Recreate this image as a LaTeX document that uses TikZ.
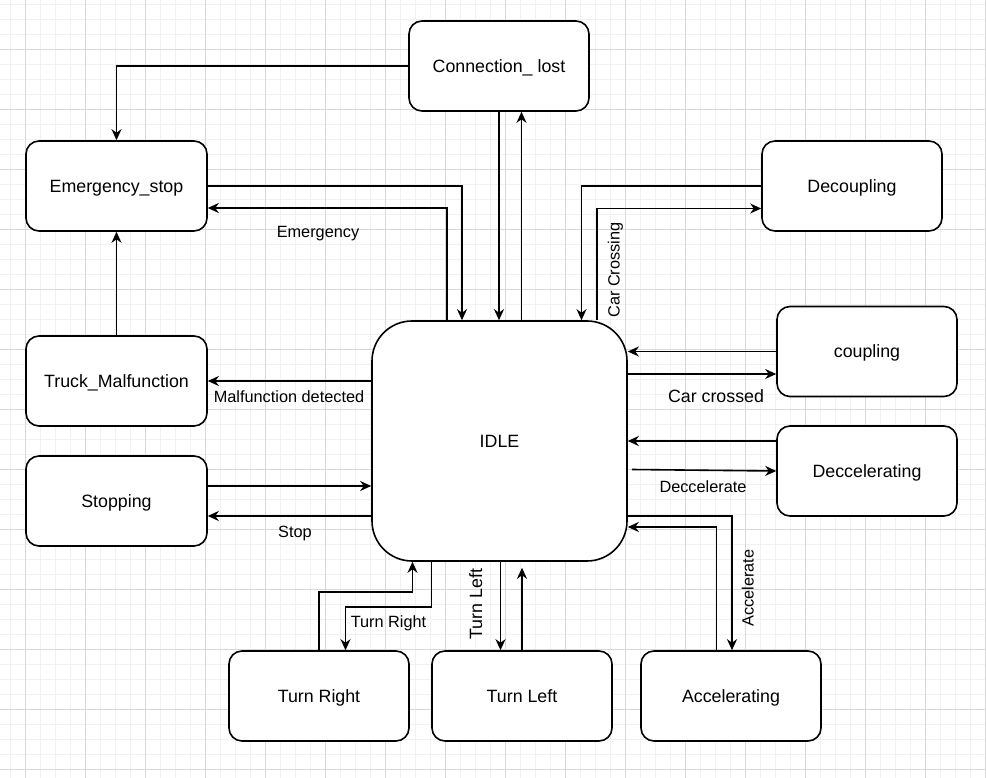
\documentclass[tikz,border=0pt]{standalone}
\usepackage{fontspec}
\setmainfont{Liberation Sans}
\usetikzlibrary{arrows.meta,calc}
\definecolor{gridmajor}{HTML}{D8D8D8}
\definecolor{gridminor}{HTML}{F1F1F1}
\newcommand\stfont{\fontsize{17.8}{21}\selectfont}
\newcommand\lbfont{\fontsize{16.3}{19}\selectfont}
\newcommand\lbbigfont{\fontsize{17.8}{21}\selectfont}
\begin{document}
\begin{tikzpicture}[x=1pt,y=-1pt,
  state/.style={draw, line width=1.6pt, rounded corners=13pt, minimum width=180pt, minimum height=90pt, font=\stfont, fill=white, inner sep=0pt, text height=16.1pt, text depth=3.8pt},
  arr/.style={-{Stealth[length=11pt,width=10pt,inset=3.5pt]}, line width=1.6pt},
  lbl/.style={font=\lbfont, inner sep=0pt, text height=14.75pt, text depth=3.45pt},
  lblbig/.style={font=\lbbigfont, inner sep=0pt, text height=16.1pt, text depth=3.8pt}]
\fill[white] (0,0) rectangle (986,778);
\useasboundingbox (0,0) rectangle (986,778);
% grid
\foreach \x in {10,25,...,985} \draw[gridminor,line width=0.8pt] (\x,0) -- (\x,778);
\foreach \y in {4,19,...,778} \draw[gridminor,line width=0.8pt] (0,\y) -- (986,\y);
\foreach \x in {25,85,...,985} \draw[gridmajor,line width=0.8pt] (\x,0) -- (\x,778);
\foreach \y in {49,109,...,769} \draw[gridmajor,line width=0.8pt] (0,\y) -- (986,\y);

% states
\node[state] (conn)   at (499,66)    {Connection\_ lost};
\node[state, minimum width=181pt] (estop)  at (116.5,186) {Emergency\_stop};
\node[state, minimum width=181pt] (truck)  at (116.5,381) {Truck\_Malfunction};
\node[state, minimum width=181pt] (stop)   at (116.5,501) {Stopping};
\node[state, rounded corners=40pt, minimum width=255pt, minimum height=240pt] (idle) at (499.5,441) {IDLE};
\node[state] (decoup) at (852,186)   {Decoupling};
\node[state] (coup)   at (867,351.5) {coupling};
\node[state] (decel)  at (867,471)   {Deccelerating};
\node[state] (tright) at (319,696)   {Turn Right};
\node[state] (tleft)  at (522,696)   {Turn Left};
\node[state] (accel)  at (731,696)   {Accelerating};

% helper coordinates
\coordinate (c3)  at ($(idle.north)+(-52.5,0)$);
\coordinate (c3b) at ($(estop.east)+(0,22)$);
\coordinate (c5)  at ($(idle.north)+(22,0)$);
\coordinate (c7)  at ($(idle.north)+(97.5,0)$);
\coordinate (c7b) at ($(decoup.west)+(0,22.5)$);
\coordinate (c9)  at ($(coup.west)+(0,22.5)$);
\coordinate (c10) at ($(decel.west)+(0,-30)$);
\coordinate (c11) at ($(idle.east)+(4,28.5)$);
\coordinate (c12) at ($(accel.north)+(-14.5,0)$);
\coordinate (c12b) at ($(idle.east)+(0,86)$);
\coordinate (c13) at ($(idle.east)+(0,75)$);
\coordinate (c13b) at ($(accel.north)+(1,0)$);
\coordinate (c16) at ($(stop.east)+(0,-15)$);
\coordinate (c17) at ($(stop.east)+(0,15)$);
\coordinate (c18) at ($(idle.south)+(-87,30)$);
\coordinate (c18b) at ($(idle.south)+(-87,0)$);
\coordinate (c19) at ($(idle.south)+(-68,0)$);
\coordinate (c19b) at ($(idle.south)+(-68,45)$);
\coordinate (c19c) at ($(tright.north)+(26.5,0)$);
\coordinate (c20) at ($(idle.south)+(1,0)$);
\coordinate (c20b) at ($(tleft.north)+(-21.5,0)$);
\coordinate (c21) at ($(tleft.north |- idle.south)+(0,6)$);

% connectors
\draw[arr] (conn.west) -| (estop.north);
\draw[arr] (estop.east) -| ($(idle.north)+(-37.5,0)$);
\draw[arr] (c3) |- (c3b);
\draw[arr] (conn.south) -- (conn.south |- idle.north);
\draw[arr] (c5) -- (c5 |- conn.south);
\draw[arr] (decoup.west) -| ($(idle.north)+(82,0)$);
\draw[arr] (c7) |- (c7b);
\draw[arr] (coup.west) -- (coup.west -| idle.east);
\draw[arr] (c9 -| idle.east) -- (c9);
\draw[arr] (c10) -- (c10 -| idle.east);
\draw[arr] (c11) -- (decel.west);
\draw[arr] (c12) |- (c12b);
\draw[arr] (c13) -| (c13b);
\draw[arr] (truck.north) -- (estop.south);
\draw[arr] (idle.west |- truck.east) -- (truck.east);
\draw[arr] (c16) -- (c16 -| idle.west);
\draw[arr] (c17 -| idle.west) -- (c17);
\draw[arr] (tright.north) |- (c18) -- (c18b);
\draw[arr] (c19) -- (c19b) -| (c19c);
\draw[arr] (c20) -- (c20b);
\draw[arr] (tleft.north) -- (c21);

% labels
\node[lbl] (lemerg) at (318,232) {Emergency};
\node[lbl, rotate=90] (lcarx) at (614,270) {Car Crossing};
\node[lblbig] (lcarc) at (716,396) {Car crossed};
\node[lbl] (ldecel) at (703,487) {Deccelerate};
\node[lbl, rotate=90] (laccel) at (748,588) {Accelerate};
\node[lbl] (lmalf) at (289,397) {Malfunction detected};
\node[lbl] (lstop) at (295,532) {Stop};
\node[lbl] (ltr) at (388.5,622) {Turn Right};
\node[lblbig, rotate=90] (ltl) at (476,604) {Turn Left};
\end{tikzpicture}
\end{document}
